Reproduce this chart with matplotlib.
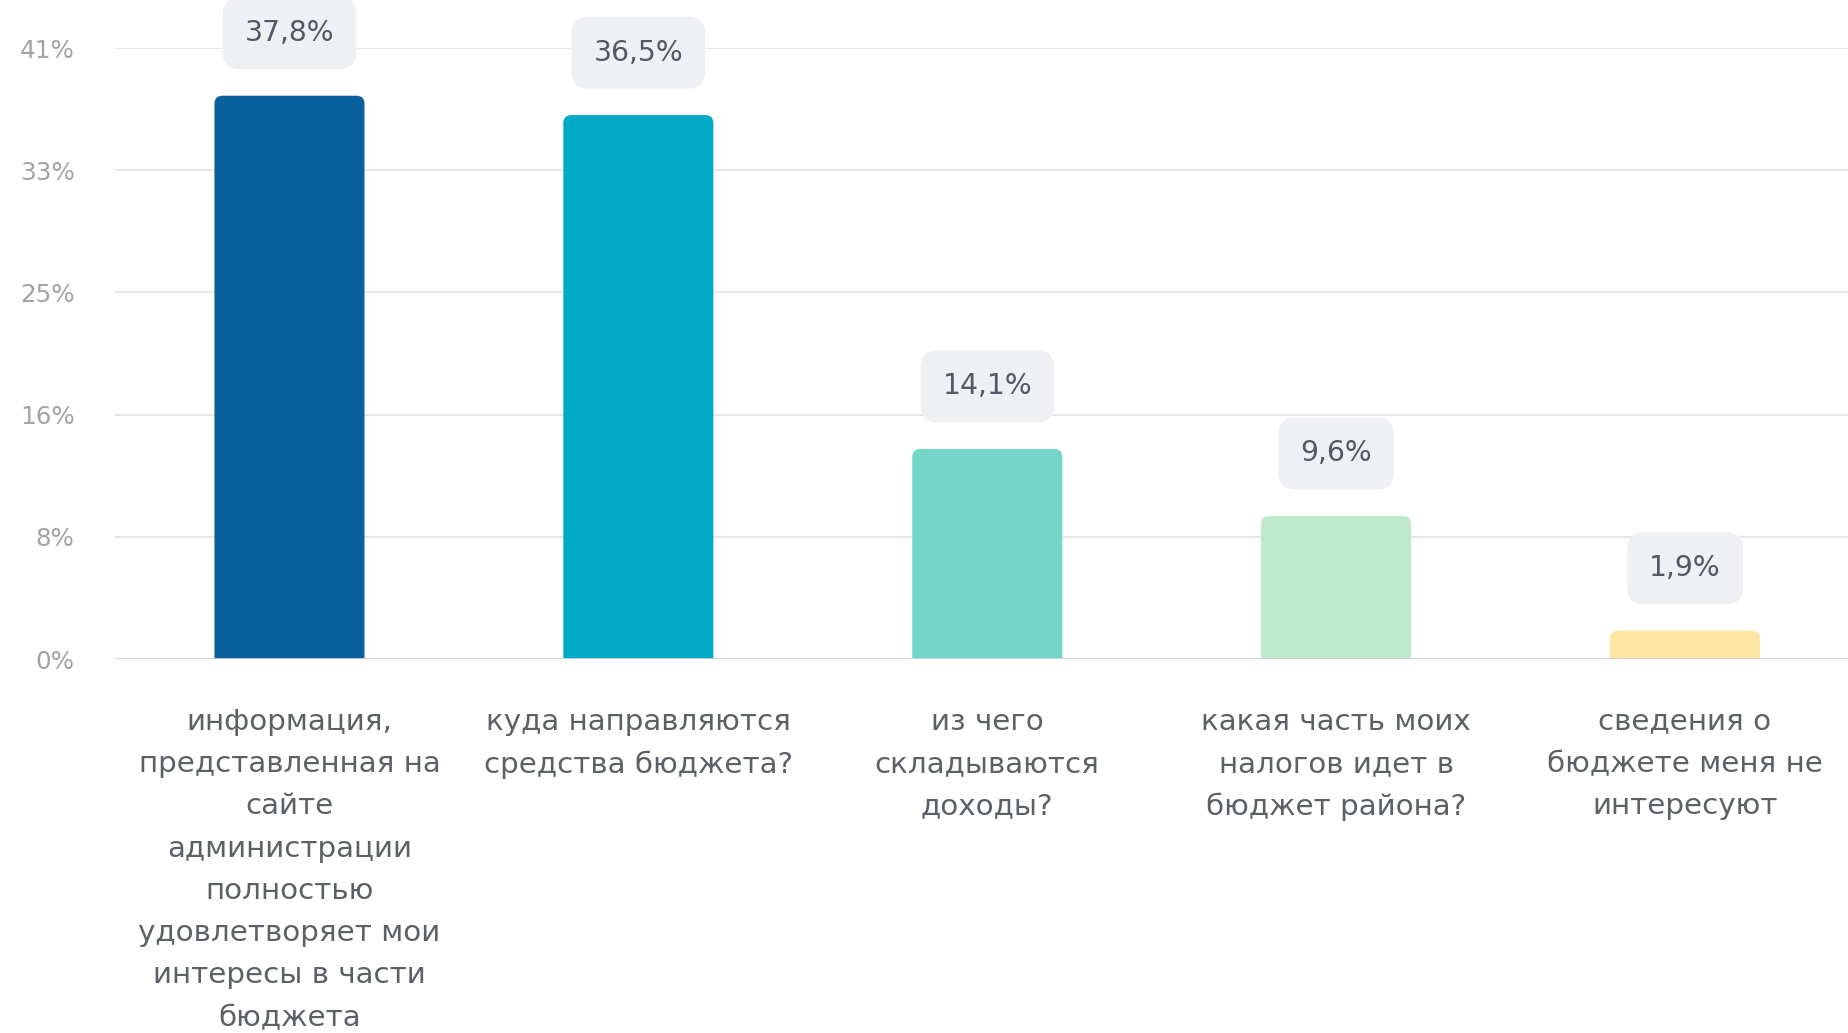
import matplotlib.pyplot as plt
from matplotlib.patches import FancyBboxPatch

plt.rcParams["font.family"] = ["DejaVu Sans"]

# Данные опроса
categories = [
    "информация,\nпредставленная на\nсайте\nадминистрации\nполностью\nудовлетворяет мои\nинтересы в части\nбюджета",
    "куда направляются\nсредства бюджета?",
    "из чего\nскладываются\nдоходы?",
    "какая часть моих\nналогов идет в\nбюджет района?",
    "сведения о\nбюджете меня не\nинтересуют",
]
values = [37.8, 36.5, 14.1, 9.6, 1.9]
value_labels = ["37,8%", "36,5%", "14,1%", "9,6%", "1,9%"]
y_ticks = [0, 8.2, 16.4, 24.6, 32.8, 41]
y_tick_labels = ["0%", "8%", "16%", "25%", "33%", "41%"]
colors = ["#0a5f9d", "#00aac7", "#76d5c9", "#bfe9cb", "#fde5a2"]

fig = plt.figure(figsize=(18.49, 10.33), dpi=100)
ax = fig.add_axes([0.0622, 0.362, 0.9378, 0.5915])

x = list(range(len(values)))
bars = ax.bar(x, values, width=0.43, color=colors, zorder=2)

ax.set_xlim(-0.5, 4.47)
ax.set_ylim(0, 41)

# скругление верхних углов столбцов (нижние уходят под ось и обрезаются)
px_x = (ax.get_xlim()[1] - ax.get_xlim()[0]) / (0.9378 * 1849)
px_y = 41 / (0.5915 * 1033)
r = 8 * px_x
for b in bars:
    b.set_visible(False)
    bx, bw, bh = b.get_x(), b.get_width(), b.get_height()
    ax.add_patch(FancyBboxPatch((bx, -2), bw, bh + 2,
                                boxstyle=f"round,pad=0,rounding_size={r}",
                                mutation_aspect=px_y / px_x,
                                fc=b.get_facecolor(), ec="none", zorder=2))

for xi, v, lab in zip(x, values, value_labels):
    ax.annotate(lab, xy=(xi, v), xytext=(0, 45), textcoords="offset points",
                ha="center", va="center", fontsize=20.3, color="#535866",
                bbox=dict(boxstyle="round,pad=0.78,rounding_size=0.6",
                          fc="#eef0f3", ec="none"), zorder=3)

ax.set_yticks(y_ticks)
ax.set_yticklabels(y_tick_labels, fontsize=17.7, color="#a3a3a3")
ax.set_xticks(x)
ax.set_xticklabels(categories, fontsize=21.2, color="#5c6067", linespacing=1.65,
                   va="top")
ax.tick_params(axis="y", length=0, pad=29)
ax.tick_params(axis="x", length=0, pad=35)

ax.grid(axis="y", color="#e6e6e6", linewidth=1.5, zorder=0)
ax.set_axisbelow(True)
for s in ["top", "right", "left", "bottom"]:
    ax.spines[s].set_visible(False)
ax.axhline(0, color="#cdd1da", linewidth=2, zorder=3)

fig.savefig("out.png", dpi=100)
